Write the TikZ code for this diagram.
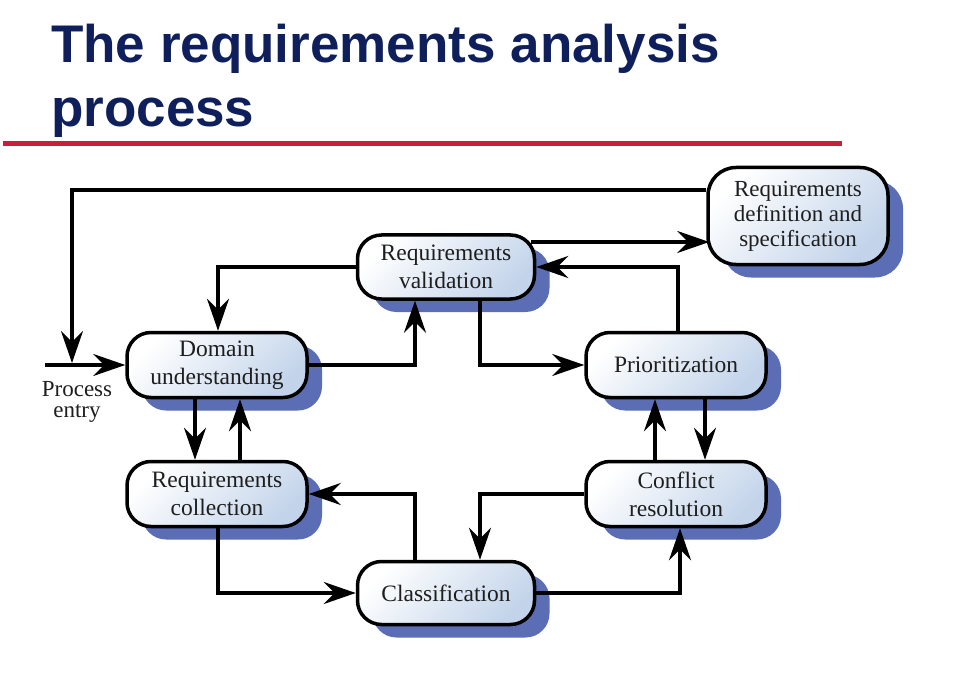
\documentclass[tikz,border=0pt]{standalone}
\usepackage{fontspec}
\setmainfont{Liberation Serif}
\newfontfamily\titlefont{Liberation Sans}
\usetikzlibrary{arrows.meta,calc,shadows}
\definecolor{titlenavy}{HTML}{0E1F5B}
\definecolor{rulered}{HTML}{C91F3C}
\definecolor{shadowblue}{HTML}{5B6DB4}
\definecolor{boxblue}{HTML}{C3D4EA}
\definecolor{inkgray}{HTML}{1E1E1E}

\begin{document}
\begin{tikzpicture}[x=1pt,y=-1pt,
  stage/.style={draw=black, line width=3.5pt, rounded corners=24pt,
    minimum width=180pt, minimum height=65pt, inner sep=0pt,
    align=center, text=inkgray, font=\fontsize{23.5}{28}\selectfont,
    top color=white, bottom color=boxblue, shading angle=45,
    drop shadow={shadow xshift=15pt, shadow yshift=-13pt,
      fill=shadowblue, opacity=1}},
  flow/.style={line width=3.3pt, draw=black,
    -{Stealth[length=32pt,width=22pt,inset=11pt]}},
  heading/.style={anchor=base west, inner sep=0pt, text=titlenavy,
    font=\titlefont\bfseries\fontsize{53}{64}\selectfont},
]
\useasboundingbox (0,0) rectangle (960,676);

% title and rule
\node[heading] (title1) at (51,63) {The requirements analysis};
\node[heading] (title2) at (51,127) {process};
\draw[rulered, line width=5pt] (3,144) -- (842,144);

% process stages
\node[stage] (dom) at (217,365) {Domain\\understanding};
\node[stage, minimum width=177pt, minimum height=64pt] (val) at (446,267) {Requirements\\validation};
\node[stage, minimum height=97pt, rounded corners=28pt,
      font=\fontsize{23}{25}\selectfont] (def) at (798,216) {Requirements\\definition and\\specification};
\node[stage] (pri) at (676,365) {Prioritization};
\node[stage] (col) at (217,494) {Requirements\\collection};
\node[stage] (con) at (676,494) {Conflict\\resolution};
\node[stage, minimum width=177pt, minimum height=63pt] (cla) at (446,593) {Classification};

% entry point
\coordinate (entry) at (45,365);
\coordinate (loopdrop) at (72,363);
\node[align=center, inner sep=0pt, text=inkgray,
      font=\fontsize{23}{21}\selectfont] (entrylabel) at (77,402) {Process\\entry};

% connectors
\draw[flow] (entry) -- (dom.west);
\draw[flow] ($(def.west)+(0,-26)$) -| (loopdrop);
\draw[flow] (dom.east) -| ($(val.south)+(-31,0)$);
\draw[flow] (val.west) -| ($(dom.north)+(1,0)$);
\draw[flow] ($(val.south)+(34,0)$) |- (pri.west);
\draw[flow] ($(pri.north)+(2,0)$) |- (val.east);
\draw[flow] ($(val.east)+(-5,-25)$) -- ($(def.west)+(3,26)$);
\draw[flow] ($(dom.south)+(-22,0)$) -- ($(col.north)+(-22,0)$);
\draw[flow] ($(col.north)+(23,0)$) -- ($(dom.south)+(23,0)$);
\draw[flow] ($(pri.south)+(29,0)$) -- ($(con.north)+(29,0)$);
\draw[flow] ($(con.north)+(-21,0)$) -- ($(pri.south)+(-21,0)$);
\draw[flow] ($(cla.north)+(-31,0)$) |- (col.east);
\draw[flow] ($(col.south)+(1,0)$) |- (cla.west);
\draw[flow] (con.west) -| ($(cla.north)+(34,0)$);
\draw[flow] (cla.east) -| ($(con.south)+(4,0)$);
\end{tikzpicture}
\end{document}
